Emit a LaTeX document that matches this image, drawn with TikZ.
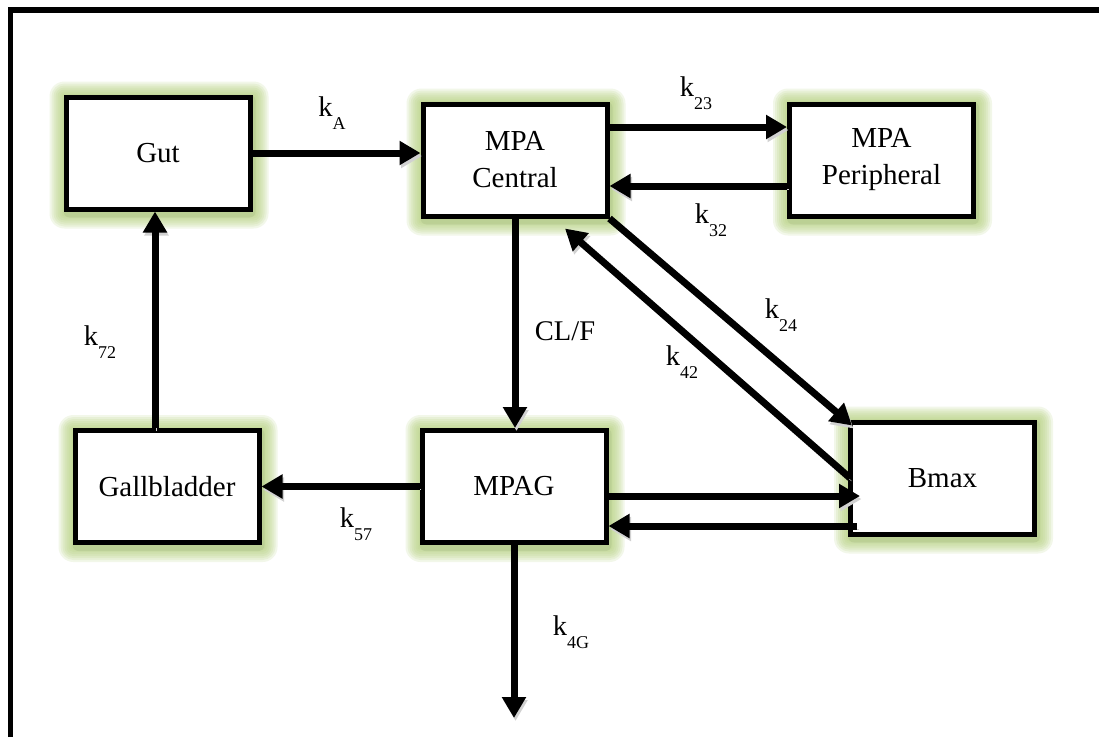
\documentclass[tikz,border=0pt]{standalone}
\usepackage{fontspec}
\setmainfont{Liberation Serif}
\usetikzlibrary{arrows.meta,calc}
\pgfdeclarelayer{background}
\pgfdeclarelayer{back0}
\pgfsetlayers{back0,background,main}
\definecolor{glowc}{RGB}{180,208,125}
\newcommand\kk[1]{k\raisebox{-13pt}{\fontsize{18}{18}\selectfont #1}}
\newcommand\glowbox[1]{%
  \fill[black!30, opacity=0.5, rounded corners=6pt]
      ($(#1.north west)+(0,0)$) rectangle ($(#1.south east)+(3,6)$);
  \foreach \d in {15,13,11,9,7,5,3} {%
    \fill[glowc, opacity=0.17, rounded corners=\d pt]
      ($(#1.north west)+(-\d+1,-\d+2)$) rectangle ($(#1.south east)+(\d+1,\d+2)$);}}
\begin{document}
\begin{tikzpicture}[x=1pt,y=-1pt,
  box/.style={draw, line width=5pt, fill=white, inner sep=0pt, align=center,
    minimum width=184pt, minimum height=112pt,
    font=\fontsize{29}{37}\selectfont},
  arr/.style={line width=7pt, -{Triangle[length=21pt,width=23pt]},
    preaction={draw=black!18, transform canvas={shift={(1.5pt,-3pt)}}}},
  lbl/.style={inner sep=0pt, font=\fontsize{28.5}{30}\selectfont}]
\useasboundingbox (0,0) rectangle (1099,737);
\begin{pgfonlayer}{back0}
\fill[white] (0,0) rectangle (1099,737);
\end{pgfonlayer}
\draw[line width=5.5pt] (10.5,737) -- (10.5,10) -- (1099,10);

% boxes
\node[box] (gut) at (158,153) {Gut};
\node[box] (central) at (515,160) {MPA\\Central};
\node[box] (periph) at (881.5,160) {MPA\\Peripheral};
\node[box] (mpag) at (514,486.5) {MPAG};
\node[box] (gall) at (167,486.5) {Gallbladder};
\node[box] (bmax) at (942.5,478) {Bmax};

\begin{pgfonlayer}{background}
  \glowbox{gut}\glowbox{central}\glowbox{periph}
  \glowbox{mpag}\glowbox{gall}\glowbox{bmax}
\end{pgfonlayer}

% connectors
\coordinate (out) at (514,718);
\draw[arr] (gut.east) -- (gut.east -| central.west);
\draw[arr] ($(central.east)+(0,-33)$) -- ($(periph.west)+(0,-33)$);
\draw[arr] ($(periph.west)+(0,26)$) -- ($(central.east)+(0,26)$);
\draw[arr] (central.south) -- (central.south |- mpag.north);
\draw[arr] (mpag.west) -- (mpag.west -| gall.east);
\draw[arr] ($(gall.north -| gut.south)+(-3,0)$) -- ($(gut.south)+(-3,0)$);
\draw[arr] ($(mpag.east)+(0,9.5)$) -- ($(bmax.west |- mpag.east)+(12,9.5)$);
\draw[arr] ($(bmax.west |- mpag.east)+(9,39.5)$) -- ($(mpag.east)+(0,39.5)$);
\draw[arr] (mpag.south) -- (out);
\draw[arr] (central.south east) -- ($(bmax.north west)+(4,6)$);
\draw[arr] ($(bmax.west)+(2,0)$) -- ($(central.south)+(50,10)$);

% labels
\node[lbl] (lA) at (332,113.5) {\kk{A}};
\node[lbl] (l23) at (696,93) {\kk{23}};
\node[lbl] (l32) at (711,220) {\kk{32}};
\node[lbl] (lCL) at (565,331) {CL/F};
\node[lbl] (l24) at (781,315) {\kk{24}};
\node[lbl] (l42) at (682,362) {\kk{42}};
\node[lbl] (l72) at (100,342) {\kk{72}};
\node[lbl] (l57) at (356,524) {\kk{57}};
\node[lbl] (l4G) at (571,632) {\kk{4G}};
\end{tikzpicture}
\end{document}
